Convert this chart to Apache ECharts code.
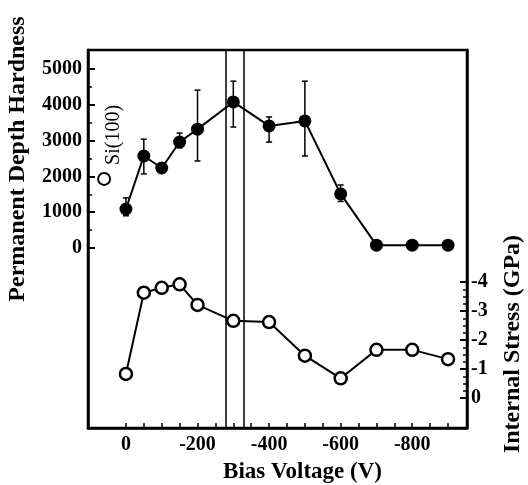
<!DOCTYPE html>
<html lang="en">
<head>
  <meta charset="UTF-8" />
  <title>Permanent Depth Hardness and Internal Stress vs Bias Voltage</title>
  <script src="https://cdn.jsdelivr.net/npm/echarts@6/dist/echarts.min.js"></script>
  <style>
    * { margin: 0; padding: 0; }
    body { background: #fff; }
    #chart { width: 528px; height: 485px; }
  </style>
</head>
<body>
  <div id="chart"></div>
  <script>
    // bias voltage (V) of each sample
    const biasVoltage = [0, -50, -100, -150, -200, -300, -400, -500, -600, -700, -800, -900];
    // permanent depth hardness (filled circles) with error range
    const hardness = [1090, 2570, 2235, 2960, 3320, 4080, 3410, 3550, 1510, 80, 80, 80];
    const hardnessLow = [900, 2070, null, 2800, 2430, 3380, 2960, 2570, 1300, null, null, null];
    const hardnessHigh = [1400, 3040, null, 3210, 4410, 4660, 3660, 4660, 1760, null, null, null];
    // internal stress in GPa (open circles)
    const stress = [-0.83, -3.63, -3.8, -3.92, -3.21, -2.66, -2.62, -1.46, -0.68, -1.66, -1.66, -1.34];
    // Si(100) reference hardness
    const siRef = [[61, 1930]];
    // vertical guide lines
    const guideLines = [-279, -330];
    // tick values
    const xLabelTicks = [0, -200, -400, -600, -800];
    const xTicks = [0, -50, -100, -150, -200, -250, -300, -350, -400, -450, -500, -550, -600, -650, -700, -750, -800, -850, -900];
    const hardnessTicks = [0, 1000, 2000, 3000, 4000, 5000];
    const hardnessMinor = [500, 1500, 2500, 3500, 4500];
    const stressTicks = [-4, -3, -2, -1, 0];
    const stressMinor = [-3.75, -3.5, -3.25, -2.75, -2.5, -2.25, -1.75, -1.5, -1.25, -0.75, -0.5, -0.25];

    const font = 'Liberation Serif';
    const chart = echarts.init(document.getElementById('chart'));

    const errData = biasVoltage.map((x, i) => [x, hardnessLow[i], hardnessHigh[i]])
      .filter(d => d[1] != null);

    const hidden = { axisLine: { show: false, onZero: false }, axisLabel: { show: false }, splitLine: { show: false } };
    const plain = v => String(v);

    chart.setOption({
      animation: false,
      grid: {
        left: 88, right: 61, top: 50, bottom: 57, containLabel: false, outerBoundsMode: 'none',
        show: true, borderColor: '#000', borderWidth: 2.5
      },
      xAxis: [{
        type: 'value', inverse: true, min: -953, max: 106,
        name: 'Bias Voltage (V)', nameLocation: 'middle', nameGap: 33,
        nameTextStyle: { fontFamily: font, fontWeight: 'bold', fontSize: 23, color: '#000', padding: [0, 0, 0, 50] },
        axisLine: { onZero: false, lineStyle: { color: '#000', width: 2.5 } },
        axisTick: { inside: true, length: 5, lineStyle: { color: '#000', width: 1.5 }, customValues: xTicks },
        axisLabel: { customValues: xLabelTicks, formatter: plain, margin: 7, fontFamily: font, fontWeight: 'bold', fontSize: 20, color: '#000' },
        splitLine: { show: false }
      }],
      yAxis: [{
        type: 'value', min: -5028, max: 5531, position: 'left',
        name: 'Permanent Depth Hardness', nameLocation: 'middle', nameGap: 58,
        nameTextStyle: { fontFamily: font, fontWeight: 'bold', fontSize: 24, color: '#000', padding: [0, 0, 0, 160] },
        axisLine: { show: true, onZero: false, lineStyle: { color: '#000', width: 2.5 } },
        axisTick: { inside: true, length: 7, lineStyle: { color: '#000', width: 2 }, customValues: hardnessTicks },
        axisLabel: { customValues: hardnessTicks, formatter: plain, margin: 6, fontFamily: font, fontWeight: 'bold', fontSize: 20, color: '#000' },
        splitLine: { show: false }
      }, {
        type: 'value', min: -12, max: 1.034, inverse: true, position: 'right',
        name: 'Internal Stress (GPa)', nameLocation: 'middle', nameGap: 34, nameRotate: 90,
        nameTextStyle: { fontFamily: font, fontWeight: 'bold', fontSize: 24, color: '#000', padding: [0, 0, 0, -210] },
        axisLine: { show: true, onZero: false, lineStyle: { color: '#000', width: 2.5 } },
        axisTick: { inside: true, length: 7, lineStyle: { color: '#000', width: 2 }, customValues: stressTicks },
        axisLabel: { customValues: stressTicks, formatter: plain, margin: 4, fontFamily: font, fontWeight: 'bold', fontSize: 20, color: '#000' },
        splitLine: { show: false }
      }, Object.assign({
        type: 'value', min: -5028, max: 5531, position: 'left', offset: 0,
        axisTick: { inside: true, length: 4, lineStyle: { color: '#000', width: 1.5 }, customValues: hardnessMinor }
      }, hidden), Object.assign({
        type: 'value', min: -12, max: 1.034, inverse: true, position: 'right', offset: 0,
        axisTick: { inside: true, length: 4, lineStyle: { color: '#000', width: 1.5 }, customValues: stressMinor }
      }, hidden)],
      series: [{
        type: 'line', xAxisIndex: 0, yAxisIndex: 0, z: 3,
        data: biasVoltage.map((x, i) => [x, hardness[i]]),
        symbol: 'circle', symbolSize: 13,
        itemStyle: { color: '#000' },
        lineStyle: { color: '#000', width: 2 },
        markLine: {
          silent: true, symbol: 'none', label: { show: false },
          lineStyle: { color: '#000', width: 1.5, type: 'solid' },
          data: guideLines.map(v => ({ xAxis: v }))
        }
      }, {
        type: 'custom', xAxisIndex: 0, yAxisIndex: 0, z: 2,
        data: errData,
        renderItem: (params, api) => {
          const top = api.coord([api.value(0), api.value(2)]);
          const bot = api.coord([api.value(0), api.value(1)]);
          const st = { stroke: '#000', lineWidth: 1.5 };
          return {
            type: 'group', children: [
              { type: 'line', shape: { x1: top[0], y1: top[1], x2: bot[0], y2: bot[1] }, style: st },
              { type: 'line', shape: { x1: top[0] - 3, y1: top[1], x2: top[0] + 3, y2: top[1] }, style: st },
              { type: 'line', shape: { x1: bot[0] - 3, y1: bot[1], x2: bot[0] + 3, y2: bot[1] }, style: st }
            ]
          };
        }
      }, {
        type: 'line', xAxisIndex: 0, yAxisIndex: 1, z: 3,
        data: biasVoltage.map((x, i) => [x, stress[i]]),
        symbol: 'circle', symbolSize: 12,
        itemStyle: { color: '#fff', borderColor: '#000', borderWidth: 2.5 },
        lineStyle: { color: '#000', width: 2 }
      }, {
        type: 'scatter', xAxisIndex: 0, yAxisIndex: 0,
        data: siRef, symbol: 'circle', symbolSize: 12,
        itemStyle: { color: '#fff', borderColor: '#000', borderWidth: 2, opacity: 1 },
        label: {
          show: true, formatter: 'Si(100)', rotate: 90, position: [17, -7],
          align: 'left', verticalAlign: 'middle',
          fontFamily: font, fontSize: 20, color: '#000', opacity: 1
        }
      }]
    });
  </script>
</body>
</html>
